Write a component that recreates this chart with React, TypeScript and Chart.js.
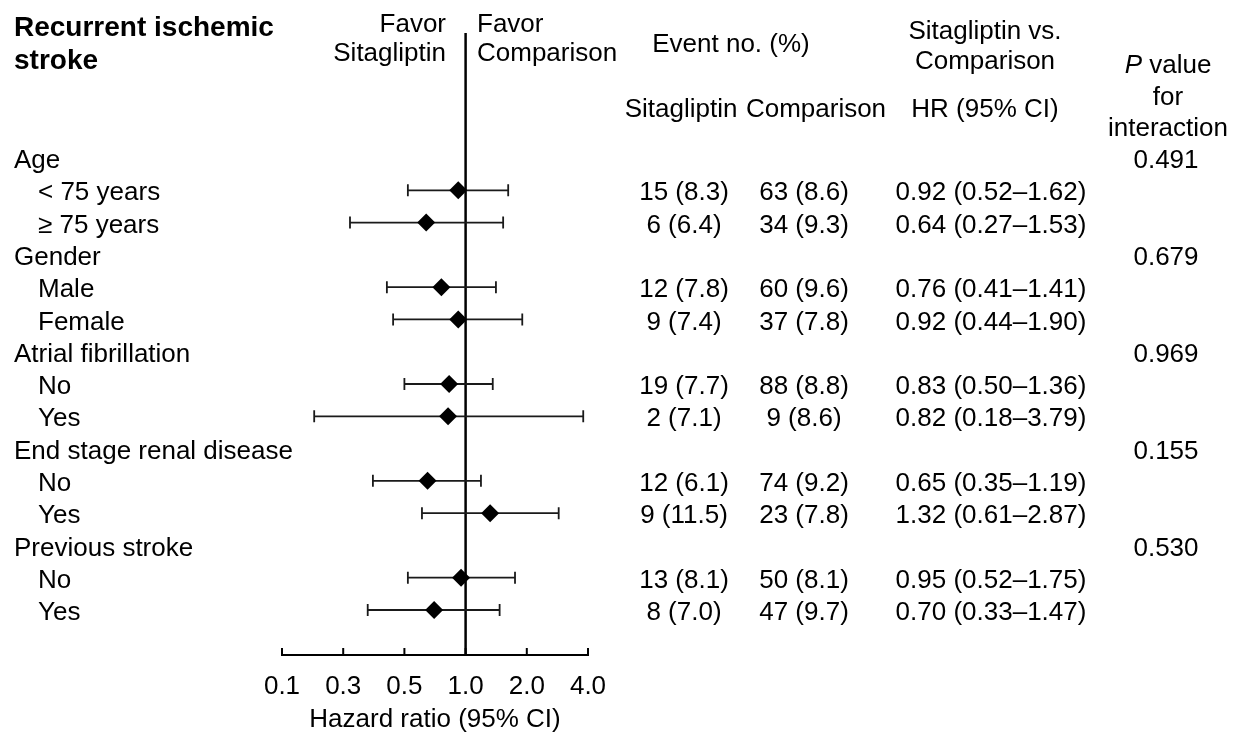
import React, { useEffect, useRef } from "react";
import { Chart, registerables } from "chart.js";

Chart.register(...registerables);

const rowLabels = [
  "Age", "< 75 years", "\u2265 75 years",
  "Gender", "Male", "Female",
  "Atrial fibrillation", "No", "Yes",
  "End stage renal disease", "No", "Yes",
  "Previous stroke", "No", "Yes",
];
const isGroupRow = [true, false, false, true, false, false, true, false, false, true, false, false, true, false, false];
const hrValues = [null, 0.92, 0.64, null, 0.76, 0.92, null, 0.83, 0.82, null, 0.65, 1.32, null, 0.95, 0.70];
const ciLow = [null, 0.52, 0.27, null, 0.41, 0.44, null, 0.50, 0.18, null, 0.35, 0.61, null, 0.52, 0.33];
const ciHigh = [null, 1.62, 1.53, null, 1.41, 1.90, null, 1.36, 3.79, null, 1.19, 2.87, null, 1.75, 1.47];
const sitaEvents = ["", "15 (8.3)", "6 (6.4)", "", "12 (7.8)", "9 (7.4)", "", "19 (7.7)", "2 (7.1)", "", "12 (6.1)", "9 (11.5)", "", "13 (8.1)", "8 (7.0)"];
const compEvents = ["", "63 (8.6)", "34 (9.3)", "", "60 (9.6)", "37 (7.8)", "", "88 (8.8)", "9 (8.6)", "", "74 (9.2)", "23 (7.8)", "", "50 (8.1)", "47 (9.7)"];
const pValues = ["0.491", "", "", "0.679", "", "", "0.969", "", "", "0.155", "", "", "0.530", "", ""];
const tickValues = [0.125, 0.25, 0.5, 1, 2, 4];
const tickLabels = ["0.1", "0.3", "0.5", "1.0", "2.0", "4.0"];

const FONT = '"Liberation Sans", Arial, sans-serif';
const FS = 26;

function fmt(v: number) {
  return v.toFixed(2);
}

const forestPlugin = {
  id: "forest",
  beforeDatasetsDraw(chart: any) {
    const { ctx, chartArea, scales } = chart;
    const xs = scales.x;
    const ys = scales.y;
    ctx.save();
    const x1 = xs.getPixelForValue(1);
    ctx.strokeStyle = "#000";
    ctx.lineWidth = 2.5;
    ctx.beginPath();
    ctx.moveTo(x1, chartArea.top);
    ctx.lineTo(x1, chartArea.bottom);
    ctx.stroke();
    ctx.lineWidth = 2;
    tickValues.forEach((v) => {
      const px = xs.getPixelForValue(v);
      ctx.beginPath();
      ctx.moveTo(px, chartArea.bottom);
      ctx.lineTo(px, chartArea.bottom - 7);
      ctx.stroke();
    });
    ctx.lineWidth = 1.8;
    ctx.strokeStyle = "#1a1a1a";
    hrValues.forEach((h, i) => {
      if (h == null) return;
      const y = ys.getPixelForValue(i);
      const a = xs.getPixelForValue(ciLow[i] as number);
      const b = xs.getPixelForValue(ciHigh[i] as number);
      ctx.beginPath();
      ctx.moveTo(a, y);
      ctx.lineTo(b, y);
      ctx.moveTo(a, y - 6);
      ctx.lineTo(a, y + 6);
      ctx.moveTo(b, y - 6);
      ctx.lineTo(b, y + 6);
      ctx.stroke();
    });
    ctx.restore();
  },
  afterDraw(chart: any) {
    const { ctx, scales } = chart;
    const ys = scales.y;
    ctx.save();
    ctx.fillStyle = "#000";
    ctx.textBaseline = "middle";
    const txt = (s: string, x: number, y: number, align: CanvasTextAlign, style = "", size = FS) => {
      ctx.font = `${style}${size}px ${FONT}`;
      ctx.textAlign = align;
      ctx.fillText(s, x, y);
    };
    txt("Recurrent ischemic", 14, 28, "left", "bold ", 28);
    txt("stroke", 14, 61, "left", "bold ", 28);
    txt("Favor", 446, 25, "right");
    txt("Sitagliptin", 446, 54, "right");
    txt("Favor", 477, 25, "left");
    txt("Comparison", 477, 54, "left");
    txt("Event no. (%)", 731, 45, "center");
    txt("Sitagliptin vs.", 985, 32, "center");
    txt("Comparison", 985, 62, "center");
    ctx.font = `italic ${FS}px ${FONT}`;
    const pW = ctx.measureText("P").width;
    ctx.font = `${FS}px ${FONT}`;
    const vW = ctx.measureText(" value").width;
    const pStart = 1168 - (pW + vW) / 2;
    txt("P", pStart, 66, "left", "italic ");
    txt(" value", pStart + pW, 66, "left");
    txt("for", 1168, 98, "center");
    txt("interaction", 1168, 129, "center");
    txt("Sitagliptin", 681, 110, "center");
    txt("Comparison", 816, 110, "center");
    txt("HR (95% CI)", 985, 110, "center");
    rowLabels.forEach((lab, i) => {
      const y = ys.getPixelForValue(i) + 3;
      txt(lab, isGroupRow[i] ? 14 : 38, y, "left");
      if (sitaEvents[i]) txt(sitaEvents[i], 684, y, "center");
      if (compEvents[i]) txt(compEvents[i], 804, y, "center");
      const h = hrValues[i];
      if (h != null) {
        txt(`${fmt(h)} (${fmt(ciLow[i] as number)}\u2013${fmt(ciHigh[i] as number)})`, 991, y, "center");
      }
      if (pValues[i]) txt(pValues[i], 1166, y, "center");
    });
    ctx.restore();
  },
};

export default function App() {
  const ref = useRef<HTMLCanvasElement | null>(null);
  useEffect(() => {
    if (!ref.current) return;
    const points = hrValues
      .map((h, i) => (h == null ? null : { x: h, y: i }))
      .filter((p) => p !== null) as { x: number; y: number }[];
    const chart = new Chart(ref.current, {
      type: "scatter",
      data: {
        datasets: [
          {
            data: points,
            pointStyle: "rectRot",
            pointRadius: 9,
            pointHoverRadius: 9,
            backgroundColor: "#000",
            borderColor: "#000",
            borderWidth: 0,
          },
        ],
      },
      options: {
        animation: false,
        responsive: false,
        events: [],
        layout: { padding: { left: 282, right: 648, top: 33, bottom: 0 } },
        plugins: { legend: { display: false }, tooltip: { enabled: false } },
        scales: {
          x: {
            type: "logarithmic",
            min: 0.125,
            max: 4,
            afterBuildTicks: (scale: any) => {
              scale.ticks = tickValues.map((v) => ({ value: v }));
            },
            afterFit: (scale: any) => {
              scale.height = 81;
            },
            grid: { display: false, drawTicks: false },
            border: { display: true, color: "#000", width: 2 },
            ticks: {
              color: "#000",
              padding: 16,
              maxRotation: 0,
              autoSkip: false,
              font: { family: FONT, size: FS },
              callback: (_v: any, idx: number) => tickLabels[idx],
            },
            title: {
              display: true,
              text: "Hazard ratio (95% CI)",
              color: "#000",
              font: { family: FONT, size: FS },
              padding: { top: 0, bottom: 1 },
            },
          },
          y: {
            type: "linear",
            display: false,
            reverse: true,
            min: -3.872,
            max: 15.394,
          },
        },
      },
      plugins: [forestPlugin],
    } as any);
    return () => chart.destroy();
  }, []);
  return (
    <div style={{ position: "absolute", left: 0, top: 0, width: 1236, height: 736, background: "#fff" }}>
      <canvas ref={ref} width={1236} height={736} style={{ display: "block" }} />
    </div>
  );
}
